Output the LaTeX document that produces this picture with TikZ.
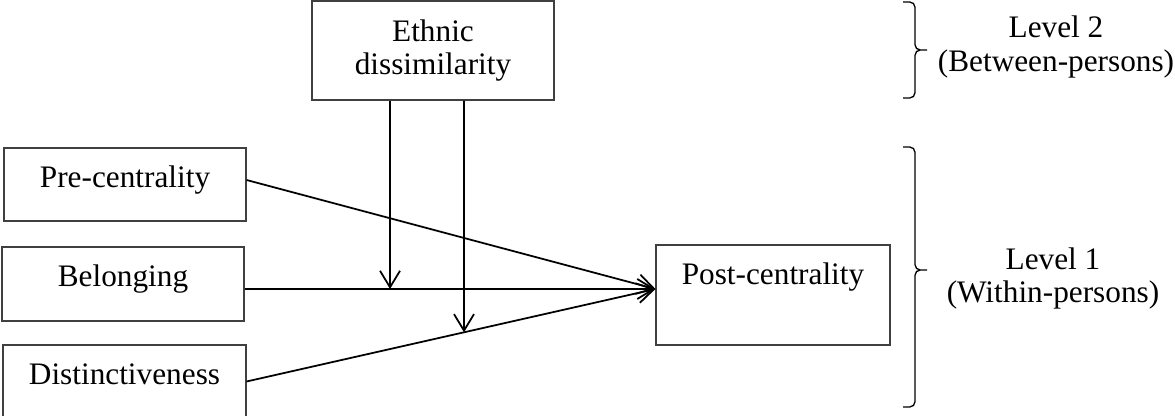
\documentclass[tikz,border=0pt]{standalone}
\usepackage{fontspec}
\setmainfont{Liberation Serif}
\usepackage{tikz}
\usetikzlibrary{arrows.meta}
\usetikzlibrary{intersections}
\usetikzlibrary{calc}
\tikzset{>={Straight Barb[length=3.3mm,width=4mm]}}
\tikzset{
    varbox/.style={draw=black!75, line width=0.65pt, inner xsep=0pt, minimum width=4.84cm},
    toptext/.style={inner ysep=0.38cm, text height=0.41cm, text depth=#1},
    effect/.style={->, line width=1pt},
}
\def\levelbrace(#1,#2,#3,#4)% Syntax: (x, top, middle, bottom)
    { \draw[line width=0.75pt, rounded corners=3pt] (#1,#2) -| ($(#1,#3)+(0.24,0)$) -- ($(#1,#3)+(0.48,0)$)
        ($(#1,#3)+(0.48,0)$) -- ($(#1,#3)+(0.24,0)$) |- (#1,#4); }

\begin{document}
\begin{tikzpicture}[font=\fontsize{17.8}{18.8}\selectfont]
	\useasboundingbox (0,0) rectangle (23.5,-8.32);
	\node[varbox, minimum height=1.98cm, align=center] (ethnic) at (8.66,-1.01) {Ethnic\\dissimilarity};
	\node[varbox, toptext=0.29cm] (pre) at (2.5,-3.69) {Pre-centrality};
	\node[varbox, toptext=0.31cm] (belong) at (2.46,-5.68) {Belonging};
	\node[varbox, toptext=0.29cm, minimum width=4.86cm] (distinct) at (2.49,-7.63) {Distinctiveness};
	\node[varbox, toptext=0.83cm, minimum width=4.68cm] (post) at (15.46,-5.9) {Post-centrality};
	\coordinate (in) at ([yshift=0.12cm]post.west);
	\draw[effect] ([yshift=0.09cm]pre.east) -- (in);
	\draw[effect] (belong.east |- in) -- (in);
	\draw[effect, name path=dline] (distinct.east) -- (in);
	\coordinate (m1) at ([xshift=-0.86cm]ethnic.south);
	\coordinate (m2) at ([xshift=0.62cm]ethnic.south);
	\draw[effect] (m1) -- (m1 |- in);
	\path[name path=mline] (m2) -- +(0,-6);
	\draw[effect, name intersections={of=dline and mline}] (m2) -- (intersection-1);
	\levelbrace(18.06,-0.04,-1.0,-1.96);
	\levelbrace(18.06,-2.94,-5.4,-8.14);
	\node[align=center] (lvltwo) at (21.12,-0.94) {Level 2\\(Between-persons)};
	\node[align=center] (lvlone) at (21.06,-5.57) {Level 1\\(Within-persons)};
\end{tikzpicture}
\end{document}
